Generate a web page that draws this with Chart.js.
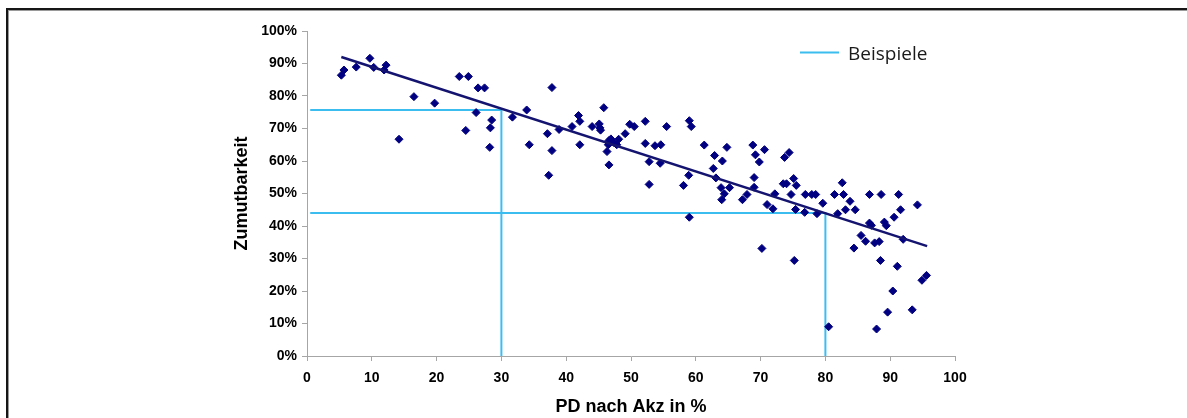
<!DOCTYPE html>
<html>
<head>
<meta charset="utf-8">
<script src="https://cdn.jsdelivr.net/npm/chart.js@4/dist/chart.umd.min.js"></script>
<style>
  html, body { margin: 0; padding: 0; background: #fff; width: 1187px; height: 418px; overflow: hidden; }
  #frame { position: absolute; left: 6px; top: 8px; width: 2000px; height: 2000px;
           border: 2px solid #161616; box-shadow: inset 1px 1px 0 #9a9a9a; box-sizing: border-box; }
  #c { position: absolute; left: 0; top: 0; }
</style>
</head>
<body>
<div id="frame"></div>
<canvas id="c" width="1187" height="418"></canvas>
<script>
// PD nach Akz in % (x) and Zumutbarkeit in % (y)
const pdValues = [
  5.3, 5.7, 7.6, 9.7, 10.3, 11.9, 12.2, 14.2, 16.5, 19.7,
  23.5, 24.5, 24.9, 26.1, 26.4, 27.4, 28.2, 28.3, 28.5, 31.7,
  33.9, 34.3, 37.1, 37.3, 37.8, 37.8, 38.9, 40.9, 41.9, 42.1,
  42.1, 44.0, 45.1, 45.2, 45.3, 45.8, 46.3, 46.5, 46.6, 46.6,
  46.9, 47.4, 47.8, 48.1, 49.1, 49.8, 50.5, 52.2, 52.2, 52.8,
  52.8, 53.7, 54.5, 54.6, 55.5, 58.1, 58.9, 59.0, 59.0, 59.3,
  61.3, 62.7, 62.9, 63.1, 63.9, 64.0, 64.1, 64.4, 64.8, 65.2,
  67.2, 67.9, 68.8, 69.0, 69.0, 69.2, 69.8, 70.2, 70.6, 71.0,
  71.9, 72.2, 73.5, 73.7, 74.0, 74.4, 74.7, 75.1, 75.2, 75.4,
  75.5, 76.8, 76.9, 77.9, 78.5, 78.7, 79.6, 80.5, 81.4, 81.9,
  82.6, 82.8, 83.1, 83.8, 84.4, 84.6, 85.5, 86.2, 86.8, 86.8,
  87.1, 87.6, 87.9, 88.3, 88.5, 88.6, 89.1, 89.4, 89.6, 90.4,
  90.6, 91.1, 91.3, 91.6, 92.0, 93.4, 94.2, 94.9, 95.6
];
const zumutValues = [
  86.4, 88.0, 88.9, 91.6, 88.8, 88.0, 89.5, 66.7, 79.8, 77.8,
  86.0, 69.4, 86.0, 74.9, 82.5, 82.5, 64.2, 70.2, 72.6, 73.5,
  75.7, 65.0, 68.4, 55.6, 63.2, 82.6, 69.7, 70.6, 74.0, 72.2,
  65.0, 70.6, 71.4, 70.2, 69.5, 76.4, 62.9, 65.0, 66.3, 58.8,
  66.8, 65.6, 65.0, 66.7, 68.4, 71.3, 70.6, 72.2, 65.4, 59.8,
  52.8, 64.7, 59.3, 65.0, 70.6, 52.5, 55.6, 72.4, 42.7, 70.6,
  64.9, 57.7, 61.7, 54.8, 51.8, 48.1, 60.0, 49.9, 64.2, 51.8,
  48.1, 49.7, 64.9, 54.9, 51.9, 61.9, 59.7, 33.1, 63.5, 46.6,
  45.3, 49.9, 53.0, 61.1, 53.0, 62.6, 49.7, 54.6, 29.4, 45.1,
  52.5, 44.2, 49.7, 49.7, 49.7, 43.8, 47.0, 9.0, 49.7, 43.8,
  53.3, 49.7, 45.0, 47.6, 33.2, 45.0, 37.1, 35.3, 49.7, 40.9,
  40.2, 34.8, 8.3, 35.2, 29.4, 49.7, 41.2, 40.1, 13.5, 20.0,
  42.7, 27.6, 49.7, 45.0, 35.9, 14.2, 46.5, 23.3, 24.8
];
// Trend line end points (x, y)
const trendX = [5.3, 95.7];
const trendY = [92.0, 33.8];
// Example lines ("Beispiele")
const example1X = [0.5, 30, 30];
const example1Y = [75.7, 75.7, 0];
const example2X = [0.5, 80, 80];
const example2Y = [44.0, 44.0, 0];
// Axis ticks
const xTicks = [0, 10, 20, 30, 40, 50, 60, 70, 80, 90, 100];
const yTicks = [0, 10, 20, 30, 40, 50, 60, 70, 80, 90, 100];
const legendLabel = 'Beispiele';
const xTitle = 'PD nach Akz in %';
const yTitle = 'Zumutbarkeit';

const toPts = (xs, ys) => xs.map((x, i) => ({ x: x, y: ys[i] }));

const NAVY = '#000080';
const CYAN = '#3cbdf0';
const AXIS_GREY = '#a6a6a6';
const tickFont = { family: '"Liberation Sans", Arial, sans-serif', size: 14, weight: 'bold' };
const titleFont = { family: '"Liberation Sans", Arial, sans-serif', size: 18, weight: 'bold' };

const legendPlugin = {
  id: 'beispieleLegend',
  afterDraw(chart) {
    const ds = chart.data.datasets.find(d => d.label === legendLabel);
    if (!ds) return;
    const { ctx, chartArea } = chart;
    const x0 = chartArea.right - 155;
    const y0 = chartArea.top + 21.5;
    ctx.save();
    ctx.strokeStyle = ds.borderColor;
    ctx.lineWidth = 2;
    ctx.beginPath();
    ctx.moveTo(x0, y0);
    ctx.lineTo(x0 + 39, y0);
    ctx.stroke();
    ctx.fillStyle = '#1a1a1a';
    ctx.font = '19px "Open Sans", sans-serif';
    ctx.textBaseline = 'middle';
    ctx.textAlign = 'left';
    ctx.fillText(ds.label, x0 + 48, y0 + 2.5);
    ctx.restore();
  }
};

new Chart(document.getElementById('c'), {
  type: 'scatter',
  data: {
    datasets: [
      {
        label: 'Trend',
        data: toPts(trendX, trendY),
        showLine: true,
        borderColor: '#141470',
        borderWidth: 2.5,
        pointRadius: 0,
        order: 0
      },
      {
        label: 'Daten',
        data: toPts(pdValues, zumutValues),
        pointStyle: 'rectRot',
        pointRadius: 4,
        pointBorderWidth: 1,
        backgroundColor: NAVY,
        borderColor: NAVY,
        showLine: false,
        order: 1
      },
      {
        label: legendLabel,
        data: toPts(example1X, example1Y),
        showLine: true,
        borderColor: CYAN,
        borderWidth: 2,
        pointRadius: 0,
        order: 2
      },
      {
        label: legendLabel + ' ',
        data: toPts(example2X, example2Y),
        showLine: true,
        borderColor: CYAN,
        borderWidth: 2,
        pointRadius: 0,
        order: 2
      }
    ]
  },
  options: {
    responsive: false,
    animation: false,
    layout: { padding: { left: 222, right: 232, top: 31, bottom: 0 } },
    plugins: {
      legend: { display: false },
      tooltip: { enabled: false }
    },
    scales: {
      x: {
        type: 'linear',
        min: 0, max: 100,
        afterBuildTicks: (s) => { s.ticks = xTicks.map(v => ({ value: v })); },
        afterFit: (s) => { s.height = 62; },
        ticks: { font: tickFont, color: '#000', padding: 9, maxRotation: 0 },
        grid: { drawOnChartArea: false, drawTicks: true, tickLength: 5, color: AXIS_GREY },
        border: { display: true, color: AXIS_GREY, width: 1 },
        title: { display: true, text: xTitle, font: titleFont, color: '#000', padding: { top: 0, bottom: 0 } }
      },
      y: {
        type: 'linear',
        min: 0, max: 100,
        afterBuildTicks: (s) => { s.ticks = yTicks.map(v => ({ value: v })); },
        afterFit: (s) => { s.width = 85; },
        ticks: { font: tickFont, color: '#000', padding: 5, callback: (v) => v + '%' },
        grid: { drawOnChartArea: false, drawTicks: true, tickLength: 5, color: AXIS_GREY },
        border: { display: true, color: AXIS_GREY, width: 1 },
        title: { display: true, text: yTitle, font: titleFont, color: '#000', padding: { top: 9, bottom: 0 } }
      }
    }
  },
  plugins: [legendPlugin]
});
</script>
</body>
</html>
